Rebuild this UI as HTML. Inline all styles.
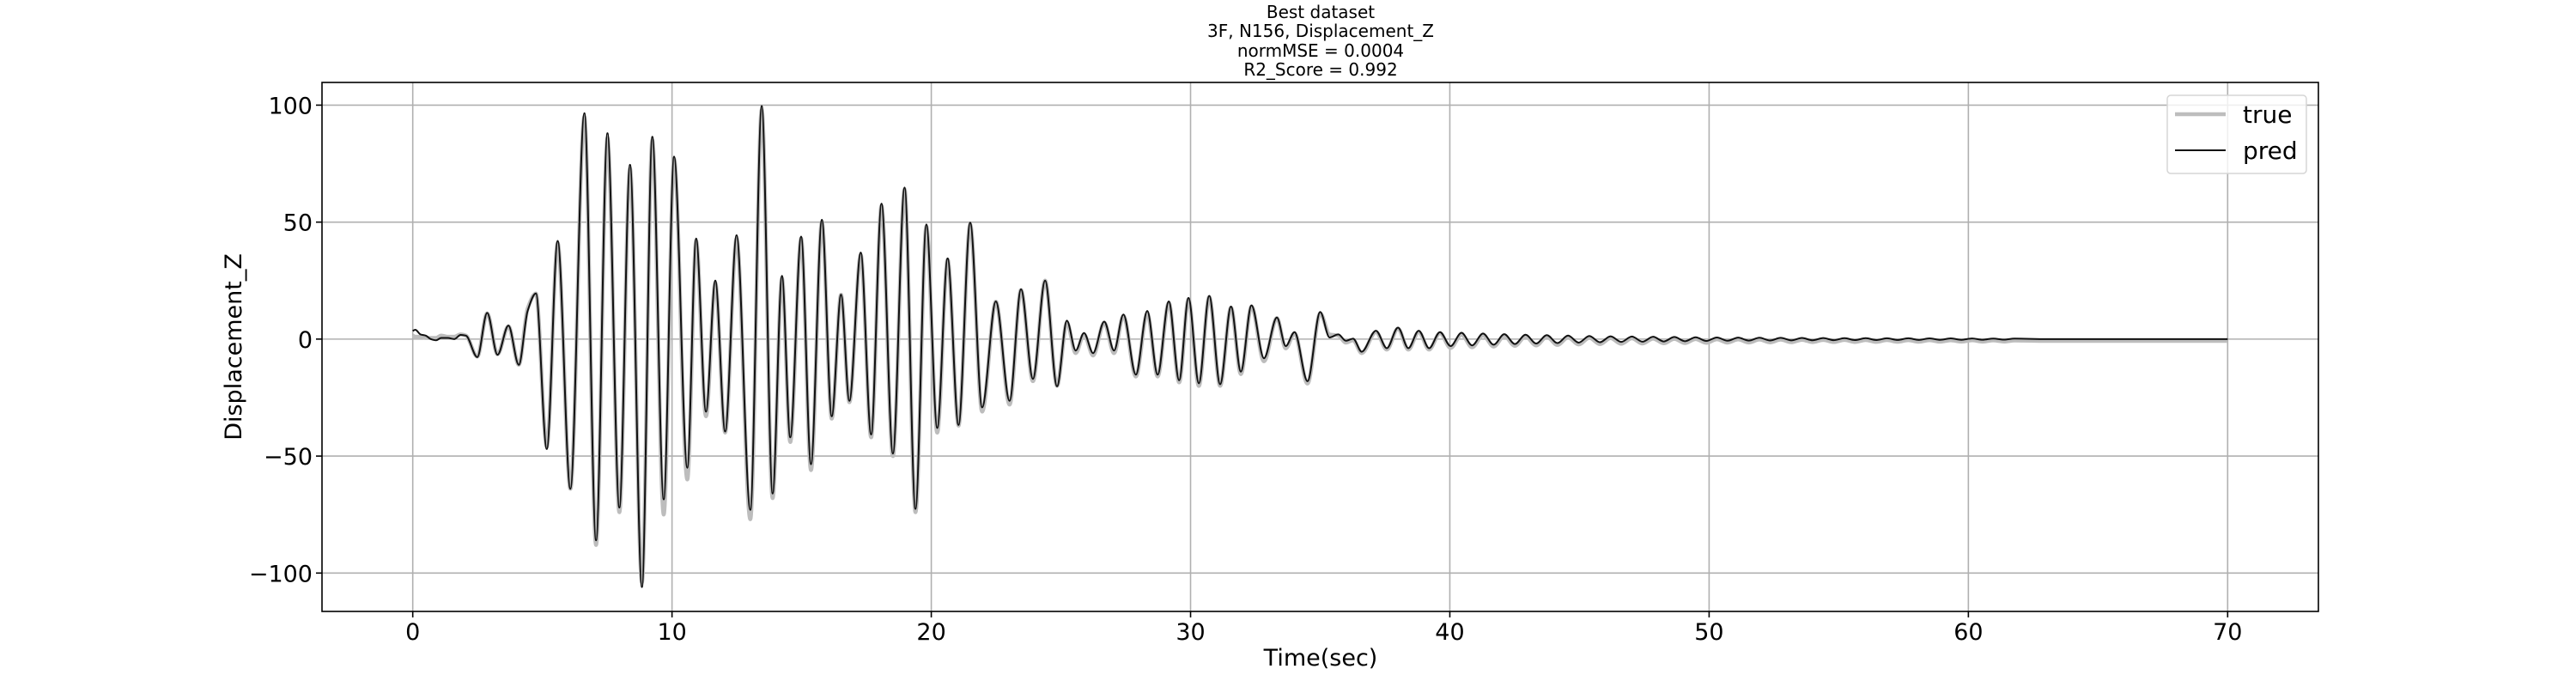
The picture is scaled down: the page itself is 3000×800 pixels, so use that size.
<!DOCTYPE html>
<html><head><meta charset="utf-8">
<style>
html,body{margin:0;padding:0;background:#fff;}
svg{display:block;font-family:"DejaVu Sans","Liberation Sans",sans-serif;}
</style></head>
<body>
<svg id="chart" width="3000" height="800" viewBox="0 0 3000 800" xmlns="http://www.w3.org/2000/svg">
<rect width="3000" height="800" fill="#fff"/>
<g font-size="20" text-anchor="middle" fill="#000">
<text x="1538" y="21">Best dataset</text>
<text x="1538" y="43">3F, N156, Displacement_Z</text>
<text x="1538" y="66">normMSE = 0.0004</text>
<text x="1538" y="88">R2_Score = 0.992</text>
</g>
<g id="grid"></g>
<g id="ticks"></g>
<g id="series"></g>
<rect x="375" y="96" width="2325" height="616" fill="none" stroke="#000" stroke-width="1.6"/>
<text x="1538" y="775" font-size="27" text-anchor="middle">Time(sec)</text>
<text transform="translate(281,404) rotate(-90)" font-size="27" text-anchor="middle">Displacement_Z</text>
<g>
<rect x="2524" y="111" width="162" height="91" rx="4" fill="#fff" fill-opacity="0.8" stroke="#d5d5d5" stroke-width="1.5"/>
<line x1="2533" y1="133" x2="2592" y2="133" stroke="#bdbdbd" stroke-width="4.5"/>
<text x="2612" y="143" font-size="28">true</text>
<line x1="2533" y1="175" x2="2592" y2="175" stroke="#111" stroke-width="2"/>
<text x="2612" y="185" font-size="28">pred</text>
</g>
</svg>
<script>
const xTicks=[0,10,20,30,40,50,60,70];
const yTicks=[-100,-50,0,50,100];
const yTickLabels=["\u2212100","\u221250","0","50","100"];
const times=[0,0.1,0.3,0.5,0.7,0.9,1.1,1.35,1.6,1.85,2.05,2.49,2.87,3.27,3.69,4.09,4.43,4.75,5.17,5.59,6.08,6.62,7.07,7.51,7.97,8.38,8.84,9.24,9.68,10.08,10.59,10.93,11.31,11.67,12.05,12.49,13.02,13.46,13.88,14.24,14.56,14.98,15.36,15.78,16.16,16.52,16.84,17.28,17.68,18.08,18.52,18.97,19.39,19.81,20.23,20.63,21.05,21.5,21.96,22.49,23.02,23.46,23.92,24.39,24.85,25.23,25.57,25.89,26.24,26.67,27.05,27.41,27.89,28.33,28.73,29.16,29.56,29.92,30.32,30.72,31.14,31.56,31.94,32.35,32.83,33.33,33.67,34.01,34.51,35.0,35.36,35.7,35.99,36.27,36.6,37.15,37.57,38.0,38.4,38.8,39.2,39.62,
40.03,40.45,40.86,41.28,41.69,42.10,42.51,42.92,43.33,43.74,44.15,44.56,44.97,45.38,45.79,46.20,46.61,47.02,47.43,47.84,48.25,48.66,49.07,49.48,49.89,50.30,50.71,51.12,51.53,51.94,52.35,52.76,53.17,53.58,53.99,54.40,54.81,55.22,55.63,56.04,56.45,56.86,57.27,57.68,58.09,58.50,58.91,59.32,59.73,60.14,60.55,60.96,61.37,61.78,63,65,67,70];
const predVals=[3.5,4,2,1.5,0,-0.5,0.5,0.5,0,1.8,1.5,-7.7,11.2,-6.7,5.8,-11,12,19.5,-47,42,-64,96.6,-86,88,-72,74.5,-106,86.5,-68.5,78,-55,43,-31,25,-39.5,44.4,-73,99.6,-66,27,-42,43.8,-53.5,51,-33,19,-26.4,37,-40.8,57.9,-48.9,64.8,-72.6,49,-38,34.5,-36.7,49.8,-29.2,16.1,-26.4,21.3,-17,25,-20.2,7.9,-4.9,2.6,-6,7.5,-4.9,10.5,-15.2,12,-15.2,16.1,-17.6,17.6,-18.9,18.5,-19.3,13.9,-13.9,14.4,-8.2,9.2,-3,3,-18,11.6,0.7,2,-0.7,0.2,-5.4,3.6,-3.9,4.9,-3.9,3.6,-3.9,3,
-3.0,2.7,-2.7,2.4,-2.4,2.1,-2.1,1.9,-1.9,1.7,-1.7,1.5,-1.5,1.35,-1.35,1.2,-1.2,1.1,-1.1,1.0,-1.0,0.9,-0.9,0.8,-0.8,0.7,-0.7,0.65,-0.65,0.6,-0.6,0.55,-0.55,0.5,-0.5,0.45,-0.45,0.42,-0.42,0.4,-0.4,0.37,-0.37,0.35,-0.35,0.32,-0.32,0.3,-0.3,0.28,-0.28,0.25,-0.25,0.22,0,0,0,0];
const trueVals=[1.5,1,1,0.5,0.5,0.5,1.5,1,1,2,1.5,-7.5,11,-6.5,5.5,-11,13,19.5,-46,41,-64,95,-88,86,-74,73,-104,85,-75,77,-60,42,-33,24,-40,43,-77,98,-68,26,-44,43,-56,50,-34,19,-27,36,-42,57,-50,64,-74,48,-40,34,-37,49,-31,16,-28,21,-18,25,-20,7,-6,2,-7,7,-6,10,-16,11,-16,15.5,-18.5,17,-20,18,-20,13.5,-15,14,-9.5,9,-4,2.5,-19,11,2,1.5,-1.5,-0.5,-6,3,-4.5,4.5,-4.5,3,-4.5,2.5,
-3.8,1.9,-3.5,1.6,-3.2,1.3,-2.9,1.1,-2.7,0.9,-2.5,0.7,-2.3,0.55,-2.15,0.4,-2.0,0.3,-1.9,0.2,-1.8,0.1,-1.7,0,-1.6,-0.1,-1.5,-0.15,-1.45,-0.2,-1.4,-0.25,-1.35,-0.3,-1.3,-0.35,-1.25,-0.38,-1.22,-0.4,-1.2,-0.43,-1.17,-0.45,-1.15,-0.48,-1.12,-0.5,-1.1,-0.52,-1.08,-0.55,-1.05,-0.58,-0.8,-0.8,-0.8,-0.8];

const NS="http://www.w3.org/2000/svg";
const X0=375,X1=2700,Y0=96,Y1=712;
const xMin=-3.5,xMax=73.5,yMin=-116.4,yMax=109.7;
function xs(t){return X0+(t-xMin)/(xMax-xMin)*(X1-X0);}
function ys(v){return Y1-(v-yMin)/(yMax-yMin)*(Y1-Y0);}
function mk(tag,attrs,parent){const e=document.createElementNS(NS,tag);for(const k in attrs)e.setAttribute(k,attrs[k]);parent.appendChild(e);return e;}

const grid=document.getElementById('grid');
const ticks=document.getElementById('ticks');
xTicks.forEach(t=>{
  const g=mk('line',{x1:xs(t),x2:xs(t),y1:Y0,y2:Y1,stroke:'#b0b0b0','stroke-width':1.6},grid);
  
  
  const tk=mk('line',{x1:xs(t),x2:xs(t),y1:Y1,y2:Y1+7,stroke:'#000','stroke-width':1.6},ticks);
  
  
  const lb=mk('text',{x:xs(t),y:745,'font-size':27,'text-anchor':'middle'},ticks);
  lb.textContent=String(t);
  
  
});
yTicks.forEach((v,i)=>{
  const g=mk('line',{x1:X0,x2:X1,y1:ys(v),y2:ys(v),stroke:'#b0b0b0','stroke-width':1.6},grid);
  
  
  const tk=mk('line',{x1:X0-7,x2:X0,y1:ys(v),y2:ys(v),stroke:'#000','stroke-width':1.6},ticks);
  
  
  const lb=mk('text',{x:364,y:ys(v)+10,'font-size':27,'text-anchor':'end'},ticks);
  lb.textContent=yTickLabels[i];
  
  
});

function monoPath(tArr,vArr){
  const n=tArr.length,x=tArr.map(xs),y=vArr.map(ys);
  const d=[],m=new Array(n).fill(0);
  for(let i=0;i<n-1;i++)d.push((y[i+1]-y[i])/(x[i+1]-x[i]));
  m[0]=d[0];m[n-1]=d[n-2];
  for(let i=1;i<n-1;i++){
    if(d[i-1]*d[i]<=0)m[i]=0;
    else{const w1=2*(x[i+1]-x[i])+(x[i]-x[i-1]),w2=(x[i+1]-x[i])+2*(x[i]-x[i-1]);
      m[i]=(w1+w2)/(w1/d[i-1]+w2/d[i]);}
  }
  let p='M'+x[0].toFixed(2)+','+y[0].toFixed(2);
  for(let i=0;i<n-1;i++){
    const h=x[i+1]-x[i];
    p+='C'+(x[i]+h/3).toFixed(2)+','+(y[i]+m[i]*h/3).toFixed(2)+' '+(x[i+1]-h/3).toFixed(2)+','+(y[i+1]-m[i+1]*h/3).toFixed(2)+' '+x[i+1].toFixed(2)+','+y[i+1].toFixed(2);
  }
  return p;
}
const series=document.getElementById('series');
const tl=mk('path',{d:monoPath(times,trueVals),fill:'none',stroke:'#bdbdbd','stroke-width':4.5,'stroke-linejoin':'round'},series);


const pl=mk('path',{d:monoPath(times,predVals),fill:'none',stroke:'#111','stroke-width':2,'stroke-linejoin':'round'},series);


</script>
</body></html>
